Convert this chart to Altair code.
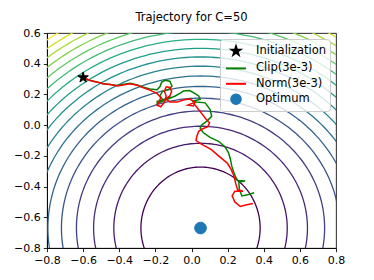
import altair as alt
import numpy as np
import pandas as pd

# ---------------- data ----------------
opt_x = [0.05]
opt_y = [-0.67]
init_x = [-0.60]
init_y = [0.31]

# contour ellipses (semi-axes per level), centred on the optimum
level_id = [1, 2, 3, 4, 5, 6, 7, 8, 9, 10, 11, 12, 13, 14, 15, 16, 17]
level_rx = [0.33, 0.48, 0.592, 0.687, 0.77, 0.845, 0.914, 0.978, 1.038, 1.095,
            1.148, 1.20, 1.249, 1.297, 1.343, 1.387, 1.43]
level_ry = [0.397, 0.552, 0.663, 0.762, 0.846, 0.922, 0.99, 1.054, 1.114, 1.17,
            1.229, 1.283, 1.334, 1.384, 1.432, 1.478, 1.523]

clip_x = [-0.60, -0.56, -0.52, -0.49, -0.45, -0.41, -0.38, -0.34, -0.30, -0.27,
          -0.23, -0.19, -0.175, -0.165, -0.146, -0.12, -0.108, -0.127, -0.16, -0.175,
          -0.16, -0.13, -0.118, -0.15, -0.19, -0.19, -0.175, -0.13, -0.09, -0.06,
          -0.045, -0.01, 0.02, 0.04, 0.048, 0.005, 0.03, 0.076, 0.103, 0.112,
          0.085, 0.055, 0.048, 0.066, 0.103, 0.15, 0.185, 0.205, 0.215, 0.223,
          0.235, 0.242, 0.255, 0.297, 0.262, 0.265, 0.279, 0.316, 0.347]
clip_y = [0.31, 0.29, 0.28, 0.27, 0.265, 0.258, 0.265, 0.272, 0.262, 0.248,
          0.235, 0.23, 0.25, 0.28, 0.292, 0.286, 0.255, 0.232, 0.22, 0.19,
          0.165, 0.175, 0.19, 0.165, 0.155, 0.14, 0.148, 0.17, 0.19, 0.21,
          0.222, 0.225, 0.205, 0.19, 0.168, 0.156, 0.15, 0.145, 0.102, 0.058,
          0.026, 0.0, -0.02, -0.05, -0.08, -0.105, -0.14, -0.18, -0.22, -0.267,
          -0.31, -0.332, -0.36, -0.364, -0.37, -0.418, -0.461, -0.451, -0.44]

norm_x = [-0.60, -0.56, -0.52, -0.49, -0.45, -0.41, -0.38, -0.34, -0.30, -0.27,
          -0.23, -0.19, -0.17, -0.18, -0.19, -0.17, -0.15, -0.14, -0.15, -0.14,
          -0.12, -0.11, -0.12, -0.14, -0.12, -0.08, -0.04, -0.01, 0.02, 0.01,
          -0.02, 0.01, 0.04, 0.06, 0.08, 0.10, 0.09, 0.06, 0.04, 0.03,
          0.025, 0.05, 0.08, 0.11, 0.14, 0.17, 0.20, 0.22, 0.235, 0.245,
          0.255, 0.285, 0.24, 0.225, 0.24, 0.27, 0.30, 0.34]
norm_y = [0.31, 0.29, 0.28, 0.27, 0.265, 0.255, 0.262, 0.27, 0.26, 0.245,
          0.228, 0.205, 0.18, 0.15, 0.13, 0.12, 0.15, 0.19, 0.22, 0.25,
          0.245, 0.22, 0.19, 0.17, 0.15, 0.15, 0.165, 0.17, 0.15, 0.125,
          0.13, 0.145, 0.10, 0.07, 0.04, 0.015, -0.01, -0.025, -0.04, -0.07,
          -0.10, -0.12, -0.14, -0.16, -0.19, -0.22, -0.25, -0.29, -0.33, -0.38,
          -0.42, -0.43, -0.43, -0.46, -0.50, -0.53, -0.52, -0.51]

x_ticks = [-0.8, -0.6, -0.4, -0.2, 0.0, 0.2, 0.4, 0.6, 0.8]
y_ticks = [-0.8, -0.6, -0.4, -0.2, 0.0, 0.2, 0.4, 0.6]

series_names = ["Initialization", "Clip(3e-3)", "Norm(3e-3)", "Optimum"]
series_colors = ["black", "green", "red", "#1f77b4"]

# ---------------- tables ----------------
t = np.linspace(0, 2 * np.pi, 241)
rows = []
for k, rx, ry in zip(level_id, level_rx, level_ry):
    for i, tt in enumerate(t):
        rows.append({"level": k, "i": i,
                     "x": opt_x[0] + rx * np.cos(tt),
                     "y": opt_y[0] + ry * np.sin(tt)})
contours = pd.DataFrame(rows)

traj = pd.concat([
    pd.DataFrame({"x": clip_x, "y": clip_y, "i": range(len(clip_x)), "series": "Clip(3e-3)"}),
    pd.DataFrame({"x": norm_x, "y": norm_y, "i": range(len(norm_x)), "series": "Norm(3e-3)"}),
])
star_df = pd.DataFrame({"x": init_x, "y": init_y, "series": ["Initialization"]})
opt_df = pd.DataFrame({"x": opt_x, "y": opt_y, "series": ["Optimum"]})

STAR = ("M0,-0.55L0.123,-0.17L0.523,-0.17L0.2,0.065L0.323,0.445L0,0.21"
        "L-0.323,0.445L-0.2,0.065L-0.523,-0.17L-0.123,-0.17Z")
CIRCLE = "M0.6,0A0.6,0.6,0,1,1,-0.6,0A0.6,0.6,0,1,1,0.6,0Z"
LINE = "M-1.25,0L1.25,0"
series_shapes = [STAR, LINE, LINE, CIRCLE]

leg = alt.Legend(title=None, orient="top-right", offset=6, padding=3,
                 fillColor="rgba(255,255,255,0.8)", strokeColor="#cccccc",
                 cornerRadius=3, labelFont="DejaVu Sans", labelFontSize=11.5,
                 labelColor="black", symbolSize=256, symbolStrokeWidth=2,
                 symbolOffset=4, labelOffset=11, rowPadding=0.4)

col_scale = alt.Scale(domain=series_names, range=series_colors)
shape_scale = alt.Scale(domain=series_names, range=series_shapes)

X = alt.X("x:Q", scale=alt.Scale(domain=[-0.8, 0.8], nice=False, zero=False),
          axis=alt.Axis(values=x_ticks, format=".1f", title=None))
Y = alt.Y("y:Q", scale=alt.Scale(domain=[-0.8, 0.6], nice=False, zero=False),
          axis=alt.Axis(values=y_ticks, format=".1f", title=None))

contour_layer = alt.Chart(contours).mark_line(clip=True, strokeWidth=1.3).encode(
    x=X, y=Y,
    color=alt.Color("level:Q", scale=alt.Scale(scheme="viridis", domain=[1, 17]), legend=None),
    detail="level:N",
    order="i:Q",
)

traj_layer = alt.Chart(traj).mark_line(strokeWidth=1.5).encode(
    x=X, y=Y,
    stroke=alt.Stroke("series:N", scale=col_scale, legend=leg),
    order="i:Q",
)

star_layer = alt.Chart(star_df).mark_point(filled=True, size=400, strokeWidth=1, opacity=1).encode(
    x=X, y=Y,
    fill=alt.Fill("series:N", scale=col_scale, legend=leg),
    stroke=alt.Stroke("series:N", scale=col_scale, legend=leg),
    shape=alt.Shape("series:N", scale=shape_scale, legend=leg),
)
opt_layer = alt.Chart(opt_df).mark_point(filled=True, size=380, strokeWidth=1, opacity=1).encode(
    x=X, y=Y,
    fill=alt.Fill("series:N", scale=col_scale, legend=leg),
    stroke=alt.Stroke("series:N", scale=col_scale, legend=leg),
    shape=alt.Shape("series:N", scale=shape_scale, legend=leg),
)

chart = alt.layer(contour_layer, traj_layer, star_layer, opt_layer).properties(
    width=289, height=215,
    autosize=alt.AutoSizeParams(type="none"),
    padding={"left": 39, "top": 25, "right": 30, "bottom": 24},
    title=alt.TitleParams("Trajectory for C=50", font="DejaVu Sans", fontSize=11.5,
                          fontWeight="normal", color="black", offset=4, anchor="middle"),
).configure_axis(
    labelFont="DejaVu Sans", labelFontSize=11, labelColor="black",
    tickColor="black", domainColor="black", tickSize=3.7, tickWidth=0.85,
    domainWidth=0.85, labelPadding=3, grid=False, labelFlush=False, labelOverlap=False,
).configure_view(stroke="black", strokeWidth=0.85)

chart.save("out.html", embed_options={"renderer": "svg", "actions": False})
